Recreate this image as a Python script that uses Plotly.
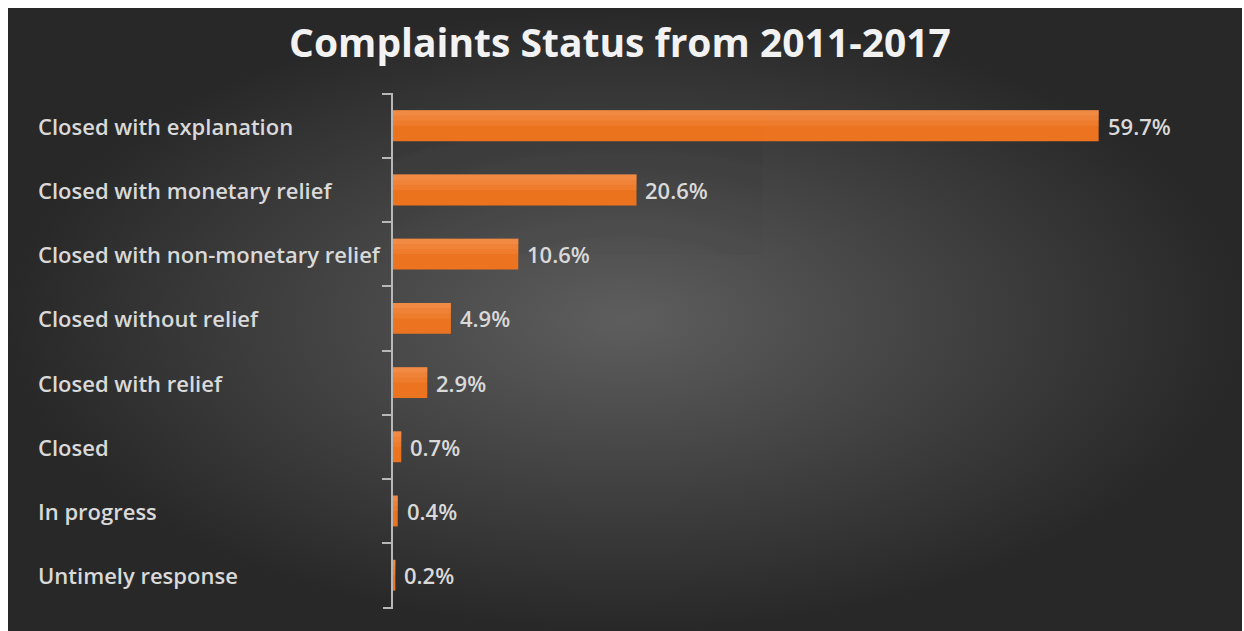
import plotly.graph_objects as go

# Complaint resolution status, share of all complaints (2011-2017)
categories = [
    "Closed with explanation",
    "Closed with monetary relief",
    "Closed with non-monetary relief",
    "Closed without relief",
    "Closed with relief",
    "Closed",
    "In progress",
    "Untimely response",
]
shares = [59.7, 20.6, 10.6, 4.9, 2.9, 0.7, 0.4, 0.2]
title_text = "Complaints Status from 2011-2017"

W, H = 1244, 631
ML, MT, MR, MB = 8, 8, 2, 0
PW, PH = W - ML - MR, H - MT - MB


def px_x(p):
    return (p - ML) / PW


def px_y(p):
    return (H - MB - p) / PH


LABEL_COLOR = "#d9d9d9"
AXIS_COLOR = "#b8b8b8"
ORANGE = "#ec7420"
ORANGE_LIGHT = "#f6a268"
LABEL_FONT = dict(family="Open Sans", size=22, color=LABEL_COLOR, weight=600)

fig = go.Figure()

# dark backdrop with a soft radial glow, on a full-size subplot
fig.add_trace(go.Scatter(
    x=[0, 1, 1, 0, 0], y=[0, 0, 1, 1, 0],
    mode="lines", line=dict(width=0),
    fill="toself",
    fillgradient=dict(type="radial",
                      colorscale=[[0, "#5e5e5e"], [0.55, "#404040"], [1, "#282828"]]),
    hoverinfo="skip", showlegend=False,
    xaxis="x", yaxis="y",
))

BAR_W = 0.48
fig.add_trace(go.Bar(
    x=shares, y=categories, orientation="h",
    marker=dict(color=ORANGE, line=dict(width=0)),
    width=BAR_W,
    xaxis="x2", yaxis="y2", showlegend=False, hoverinfo="skip",
))
# graded sheen toward the upper edge of each bar
for w, op in [(0.24, 0.18), (0.16, 0.2), (0.08, 0.25)]:
    fig.add_trace(go.Bar(
        x=shares, y=categories, orientation="h",
        marker=dict(color=ORANGE_LIGHT, line=dict(width=0)),
        width=w, offset=-BAR_W / 2,
        opacity=op,
        xaxis="x2", yaxis="y2", showlegend=False, hoverinfo="skip",
    ))

annotations = []
for cat in categories:
    annotations.append(dict(
        xref="paper", yref="y2", x=px_x(36), y=cat,
        text=cat, showarrow=False, xanchor="left", yanchor="middle",
        font=LABEL_FONT,
    ))
for cat, v in zip(categories, shares):
    annotations.append(dict(
        xref="x2", yref="y2", x=v, y=cat,
        text=f"{v:.1f}%", showarrow=False, xanchor="left", yanchor="middle",
        xshift=7,
        font=LABEL_FONT,
    ))

x_left = 393
px_per_unit = 11.82
x_max = 70
x_right = x_left + x_max * px_per_unit
n = len(categories)

# closing tick at the lower end of the category axis
shapes = [dict(
    type="line", xref="paper", yref="y2 domain",
    x0=px_x(x_left - 10), x1=px_x(x_left),
    y0=0, y1=0,
    line=dict(color=AXIS_COLOR, width=2),
)]

fig.update_layout(
    width=W, height=H,
    margin=dict(l=ML, t=MT, r=MR, b=MB, pad=0),
    paper_bgcolor="white",
    plot_bgcolor="rgba(0,0,0,0)",
    barmode="overlay",
    title=dict(
        text=f"<b>{title_text}</b>",
        x=620 / W, xref="container", xanchor="center",
        y=1 - 43 / H, yref="container", yanchor="middle",
        font=dict(family="Open Sans", size=39, color="#f2f2f2"),
    ),
    xaxis=dict(domain=[0, 1], range=[0, 1], visible=False, fixedrange=True),
    yaxis=dict(domain=[0, 1], range=[0, 1], visible=False, fixedrange=True),
    xaxis2=dict(
        domain=[px_x(x_left), px_x(x_right)], range=[0, x_max],
        visible=False, anchor="y2",
    ),
    yaxis2=dict(
        domain=[px_y(608), px_y(93)], anchor="x2",
        type="category", categoryorder="array", categoryarray=categories,
        range=[n - 0.5 + 0.01, -0.5 - 0.01],
        showticklabels=False, showgrid=False, zeroline=False,
        showline=True, linecolor=AXIS_COLOR, linewidth=2,
        ticks="outside", tickson="boundaries", ticklen=9,
        tickcolor=AXIS_COLOR, tickwidth=2,
    ),
    shapes=shapes,
    annotations=annotations,
)

fig.write_html("out.html")
